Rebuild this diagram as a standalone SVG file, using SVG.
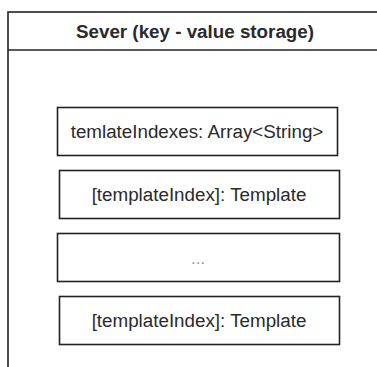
<svg xmlns="http://www.w3.org/2000/svg" width="377" height="367" viewBox="0 0 377 367">
<style>
.f{fill:#fff;stroke:#222;stroke-width:1.6}
.t{font-family:"Liberation Sans",Arial,sans-serif;font-size:18.8px;fill:#2a2a2a;text-anchor:middle;dominant-baseline:central}
.h{font-weight:bold;font-size:18.8px}
</style>
<rect width="377" height="367" fill="#fff"/>
<g id="server">
<rect class="f" x="8" y="12" width="380" height="370"/>
<line x1="8" y1="50" x2="377" y2="50" stroke="#222" stroke-width="1.6"/>
<text class="t h" x="195" y="31">Sever (key - value storage)</text>
</g>
<g id="indexes">
<rect class="f" x="57.5" y="107.5" width="280" height="48"/>
<text class="t" x="197" y="131">temlateIndexes: Array&lt;String&gt;</text>
</g>
<g id="template1">
<rect class="f" x="59.5" y="170.5" width="280" height="48"/>
<text class="t" x="199" y="194">[templateIndex]: Template</text>
</g>
<g id="ellipsis">
<rect class="f" x="57.5" y="233.5" width="282" height="48"/>
<text class="t" x="198" y="258" style="font-size:17px;fill:#999">...</text>
</g>
<g id="template2">
<rect class="f" x="59.5" y="296.5" width="280" height="48"/>
<text class="t" x="199" y="320">[templateIndex]: Template</text>
</g>
<g id="connectors"></g>
</svg>
